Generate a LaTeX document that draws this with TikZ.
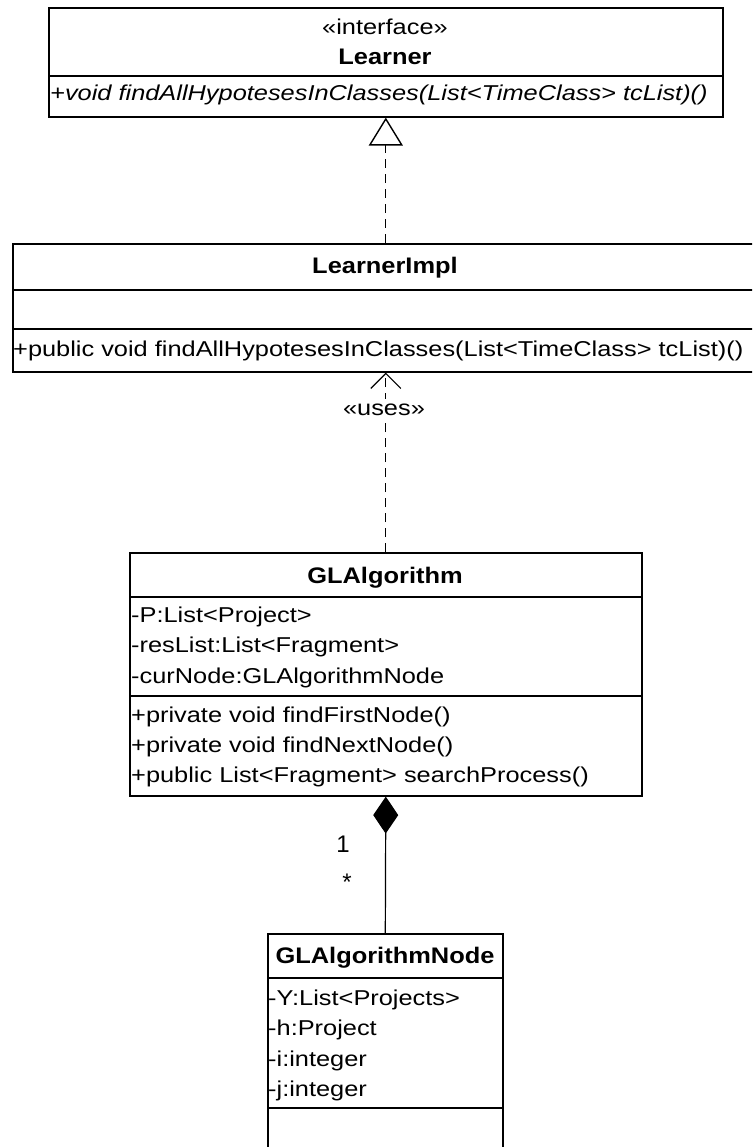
\documentclass[tikz,border=0pt]{standalone}
\usepackage{fontspec}
\usepackage{graphicx}
\setmainfont{Liberation Sans}
\usetikzlibrary{arrows.meta}
% class-diagram text is set slightly wide
\newcommand\widetext[1]{\scalebox{1.18}[1]{#1}}
\begin{document}
\begin{tikzpicture}[x=1pt,y=-1pt,
  umlbox/.style={draw, line width=1.6pt, inner sep=0pt, anchor=north west},
  divider/.style={line width=1.6pt},
  txt/.style={inner sep=0pt, font=\fontsize{21.5}{26}\selectfont},
  nametxt/.style={inner sep=0pt, font=\fontsize{22.5}{26}\selectfont\bfseries},
  multtxt/.style={inner sep=0pt, font=\fontsize{24}{28}\selectfont},
  realize/.style={line width=1.2pt, dash pattern=on 9pt off 6pt,
    -{Triangle[open, length=28pt, width=34pt, fill=white, line width=1.4pt]}},
  depend/.style={line width=1.2pt, dash pattern=on 9pt off 6pt,
    -{Straight Barb[length=15pt, width=30pt, line width=1.2pt]}},
  compose/.style={line width=1.2pt,
    -{Diamond[length=37pt, width=25pt, fill=black]}}]
\useasboundingbox (0,0) rectangle (752,1147);
\clip (0,0) rectangle (752,1147);

% interface Learner
\node[umlbox, minimum width=674pt, minimum height=109pt] (learner) at (48,7) {};
\draw[divider] (48,76) -- (722,76);
\node[txt, anchor=base] (learnerst) at (385,35) {\widetext{«interface»}};
\node[nametxt, anchor=base] (learnername) at (385,65) {\scalebox{1.13}[1]{Learner}};
\node[txt, anchor=base west] (learnerop) at (50,101)
  {\widetext{\itshape +void findAllHypotesesInClasses(List<TimeClass> tcList)()}};

% class LearnerImpl
\node[umlbox, minimum width=746pt, minimum height=128pt] (impl) at (12,243) {};
\draw[divider] (12,290) -- (758,290);
\draw[divider] (12,329) -- (758,329);
\node[nametxt, anchor=base] (implname) at (385,273) {\scalebox{1.13}[1]{LearnerImpl}};
\node[txt, anchor=base west] (implop) at (13,356)
  {\widetext{+public void findAllHypotesesInClasses(List<TimeClass> tcList)()}};

% class GLAlgorithm
\node[umlbox, minimum width=512pt, minimum height=243pt] (glalg) at (129,552) {};
\draw[divider] (129,597) -- (641,597);
\draw[divider] (129,696) -- (641,696);
\node[nametxt, anchor=base] (glalgname) at (385,583) {\scalebox{1.13}[1]{GLAlgorithm}};
\node[txt, anchor=base west] (ga1) at (131,622) {\widetext{-P:List<Project>}};
\node[txt, anchor=base west] (ga2) at (131,652) {\widetext{-resList:List<Fragment>}};
\node[txt, anchor=base west] (ga3) at (131,683) {\widetext{-curNode:GLAlgorithmNode}};
\node[txt, anchor=base west] (go1) at (131,722) {\widetext{+private void findFirstNode()}};
\node[txt, anchor=base west] (go2) at (131,752) {\widetext{+private void findNextNode()}};
\node[txt, anchor=base west] (go3) at (131,782) {\widetext{+public List<Fragment> searchProcess()}};

% class GLAlgorithmNode
\node[umlbox, minimum width=235pt, minimum height=230pt] (gnode) at (267,933) {};
\draw[divider] (267,978) -- (502,978);
\draw[divider] (267,1108) -- (502,1108);
\node[nametxt, anchor=base] (gnodename) at (385,963) {\scalebox{1.13}[1]{GLAlgorithmNode}};
\node[txt, anchor=base west] (gn1) at (268,1005) {\widetext{-Y:List<Projects>}};
\node[txt, anchor=base west] (gn2) at (268,1035) {\widetext{-h:Project}};
\node[txt, anchor=base west] (gn3) at (268,1066) {\widetext{-i:integer}};
\node[txt, anchor=base west] (gn4) at (268,1096) {\widetext{-j:integer}};

% relations
\draw[realize] (impl.north) -- (learner.south);
\draw[depend] (glalg.north) -- (impl.south);
\node[txt, anchor=base, fill=white, inner ysep=4pt] (uses) at (384,415) {\widetext{«uses»}};
\draw[compose] (gnode.north) -- (glalg.south);
\node[multtxt, anchor=base] (multone) at (343,852) {1};
\node[multtxt, anchor=base] (multmany) at (347,890) {*};
\end{tikzpicture}
\end{document}
